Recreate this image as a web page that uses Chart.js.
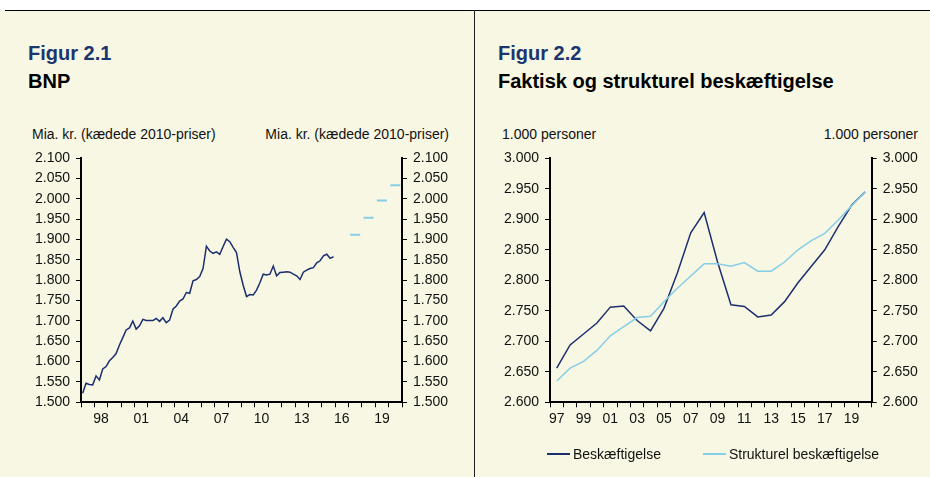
<!DOCTYPE html>
<html lang="da">
<head>
<meta charset="utf-8">
<title>Figur 2.1 og 2.2</title>
<script src="https://cdn.jsdelivr.net/npm/chart.js@4.4.1/dist/chart.umd.min.js"></script>
<style>
  html, body { margin: 0; padding: 0; }
  body {
    width: 930px; height: 477px; position: relative; overflow: hidden;
    background: #f8f7e3;
    font-family: "Liberation Sans", Arial, sans-serif;
  }
  #hvid { position: absolute; left: 0; top: 0; width: 930px; height: 10px; background: #fff; }
  #streg { position: absolute; left: 5px; top: 10px; width: 925px; height: 1px; background: #000; }
  #skille { position: absolute; left: 474px; top: 10px; width: 1px; height: 467px; background: #222; }
  .fig { position: absolute; font-weight: bold; font-size: 20px; line-height: 20px; color: #1b356e; white-space: nowrap; }
  .titel { position: absolute; font-weight: bold; font-size: 20px; line-height: 20px; color: #000; white-space: nowrap; }
  .enhed { position: absolute; top: 127px; font-size: 14px; line-height: 14px; color: #111; white-space: nowrap; }
  canvas { position: absolute; top: 140px; }
  #legende { position: absolute; left: 547px; top: 447px; display: flex; align-items: center;
             font-size: 14px; line-height: 14px; color: #111; white-space: nowrap; }
  #legende .punkt { display: flex; align-items: center; margin-right: 42px; }
  #legende .linje { display: inline-block; width: 23px; height: 1.5px; margin-right: 3px; }
</style>
</head>
<body>
<div id="hvid"></div>
<div id="streg"></div>
<div id="skille"></div>

<div class="fig" style="left:28px; top:43px;">Figur 2.1</div>
<div class="titel" style="left:28px; top:71px;">BNP</div>
<div class="enhed" style="left:32px;">Mia. kr. (kædede 2010-priser)</div>
<div class="enhed" style="right:481px;">Mia. kr. (kædede 2010-priser)</div>

<div class="fig" style="left:498px; top:43px;">Figur 2.2</div>
<div class="titel" style="left:498px; top:71px;">Faktisk og strukturel beskæftigelse</div>
<div class="enhed" style="left:502px;">1.000 personer</div>
<div class="enhed" style="right:12px;">1.000 personer</div>

<canvas id="bnpChart" width="474" height="337" style="left:0px;"></canvas>
<canvas id="beskChart" width="455" height="337" style="left:475px;"></canvas>
<div id="legende"></div>

<script>
// Figur 2.1 - BNP, kvartaler fra 1997K1 (mia. kr.)
const bnpStartAar = 1997;
const bnp = [
  1522, 1547, 1544, 1543, 1565, 1555, 1582, 1588, 1602, 1610, 1620, 1641,
  1659, 1678, 1683, 1700, 1680, 1688, 1704, 1701, 1701, 1701, 1706, 1699,
  1708, 1696, 1702, 1729, 1737, 1749, 1754, 1770, 1768, 1799, 1802, 1809,
  1829, 1884, 1872, 1866, 1870, 1864, 1883, 1901, 1895, 1881, 1868, 1821,
  1788, 1760, 1765, 1764, 1776, 1794, 1815, 1813, 1815, 1835, 1811, 1819,
  1820, 1821, 1820, 1815, 1811, 1802, 1820, 1825, 1829, 1831, 1843, 1848,
  1860, 1864, 1854, 1858
];
// fremskrivning, årsniveauer
const prognoseAar = [2017, 2018, 2019, 2020];
const prognose = [1912, 1954, 1996, 2034];
// aar der får label på x-aksen
const bnpLabelAar = [1998, 2001, 2004, 2007, 2010, 2013, 2016, 2019];

// Figur 2.2 - beskæftigelse (1.000 personer)
const aar = ['97', '98', '99', '00', '01', '02', '03', '04', '05', '06', '07', '08',
             '09', '10', '11', '12', '13', '14', '15', '16', '17', '18', '19', '20'];
const beskaeftigelse = [2656, 2694, 2712, 2730, 2756, 2758, 2734, 2717, 2754, 2812, 2878, 2911,
                        2830, 2760, 2757, 2740, 2743, 2765, 2796, 2823, 2850, 2888, 2923, 2945];
const strukturel = [2635, 2656, 2667, 2685, 2709, 2724, 2739, 2741, 2765, 2787, 2807, 2827,
                    2827, 2823, 2829, 2815, 2815, 2830, 2850, 2865, 2877, 2899, 2922, 2945];

const moerkBlaa = '#1b2f6e';
const lyseBlaa = '#86cde8';
const tickFont = { family: "'Liberation Sans', Arial, sans-serif", size: 14 };

Chart.defaults.font.family = "'Liberation Sans', Arial, sans-serif";
Chart.defaults.color = '#111';

// 2100 -> "2.100"
function tusind(v) {
  const t = Math.floor(v / 1000);
  const r = Math.round(v - t * 1000);
  return t + '.' + String(r).padStart(3, '0');
}

function yAkse(pos, min, max, bredde) {
  return {
    type: 'linear',
    position: pos,
    min: min,
    max: max,
    ticks: { stepSize: 50, padding: 6, color: '#111', font: tickFont, callback: v => tusind(v) },
    grid: { drawOnChartArea: false, drawTicks: true, tickLength: 5, color: '#000', lineWidth: 1 },
    border: { display: true, color: '#000', width: 2 },
    afterFit: s => { s.width = bredde; }
  };
}

// BNP-punkter midt i hvert kvartal
const bnpPunkter = bnp.map((v, i) => ({ x: bnpStartAar + (i + 0.5) / 4, y: v }));
// prognosen tegnes som korte streger fra 1. til 4. kvartal
const prognosePunkter = [];
prognoseAar.forEach((a, i) => {
  prognosePunkter.push({ x: a + 0.125, y: prognose[i] });
  prognosePunkter.push({ x: a + 0.875, y: prognose[i] });
  prognosePunkter.push({ x: a + 1, y: null });
});

new Chart(document.getElementById('bnpChart'), {
  type: 'line',
  data: {
    datasets: [
      { label: 'BNP', data: bnpPunkter, borderColor: moerkBlaa, borderWidth: 1.5,
        pointRadius: 0, tension: 0, yAxisID: 'y' },
      { label: 'Prognose', data: prognosePunkter, borderColor: lyseBlaa, borderWidth: 2,
        pointRadius: 0, tension: 0, spanGaps: false, yAxisID: 'y' }
    ]
  },
  options: {
    responsive: false,
    animation: false,
    devicePixelRatio: 1,
    layout: { padding: { left: 0, right: 0, top: 18.3, bottom: 44.7 } },
    plugins: { legend: { display: false }, tooltip: { enabled: false } },
    scales: {
      x: {
        type: 'linear',
        min: 1997,
        max: 2021,
        afterBuildTicks: s => {
          const t = [];
          for (let v = 1997; v <= 2021; v += 0.5) t.push({ value: v });
          s.ticks = t;
        },
        ticks: {
          autoSkip: false, maxRotation: 0, padding: 3, color: '#111', font: tickFont,
          callback: v => {
            const a = Math.floor(v);
            return (v - a === 0.5 && bnpLabelAar.includes(a)) ? String(a).slice(2) : '';
          }
        },
        grid: {
          drawOnChartArea: false, drawTicks: true, tickLength: 5, lineWidth: 1,
          color: ctx => (ctx.tick && Number.isInteger(ctx.tick.value)) ? '#000' : 'rgba(0,0,0,0)'
        },
        border: { display: true, color: '#000', width: 2 },
        afterFit: s => { s.height = 30; }
      },
      y: yAkse('left', 1500, 2100, 81),
      y2: yAkse('right', 1500, 2100, 72)
    }
  }
});

const beskChart = new Chart(document.getElementById('beskChart'), {
  type: 'line',
  data: {
    labels: aar,
    datasets: [
      { label: 'Beskæftigelse', data: beskaeftigelse, borderColor: moerkBlaa, borderWidth: 1.5,
        pointRadius: 0, tension: 0, order: 1, yAxisID: 'y' },
      { label: 'Strukturel beskæftigelse', data: strukturel, borderColor: lyseBlaa, borderWidth: 1.5,
        pointRadius: 0, tension: 0, order: 0, yAxisID: 'y' }
    ]
  },
  options: {
    responsive: false,
    animation: false,
    devicePixelRatio: 1,
    layout: { padding: { left: 0, right: 0, top: 18.3, bottom: 44.7 } },
    plugins: { legend: { display: false }, tooltip: { enabled: false } },
    scales: {
      x: {
        type: 'category',
        offset: true,
        ticks: {
          autoSkip: false, maxRotation: 0, padding: 3, color: '#111', font: tickFont,
          callback: function (v, i) { return i % 2 === 0 ? this.getLabelForValue(v) : ''; }
        },
        grid: { offset: true, drawOnChartArea: false, drawTicks: true, tickLength: 5, color: '#000', lineWidth: 1 },
        border: { display: true, color: '#000', width: 2 },
        afterFit: s => { s.height = 30; }
      },
      y: yAkse('left', 2600, 3000, 75),
      y2: yAkse('right', 2600, 3000, 58.3)
    }
  }
});

// legende bygget fra datasættene
const legende = document.getElementById('legende');
beskChart.data.datasets.forEach(ds => {
  const punkt = document.createElement('span');
  punkt.className = 'punkt';
  const linje = document.createElement('span');
  linje.className = 'linje';
  linje.style.background = ds.borderColor;
  const tekst = document.createElement('span');
  tekst.textContent = ds.label;
  punkt.appendChild(linje);
  punkt.appendChild(tekst);
  legende.appendChild(punkt);
});
</script>
</body>
</html>
